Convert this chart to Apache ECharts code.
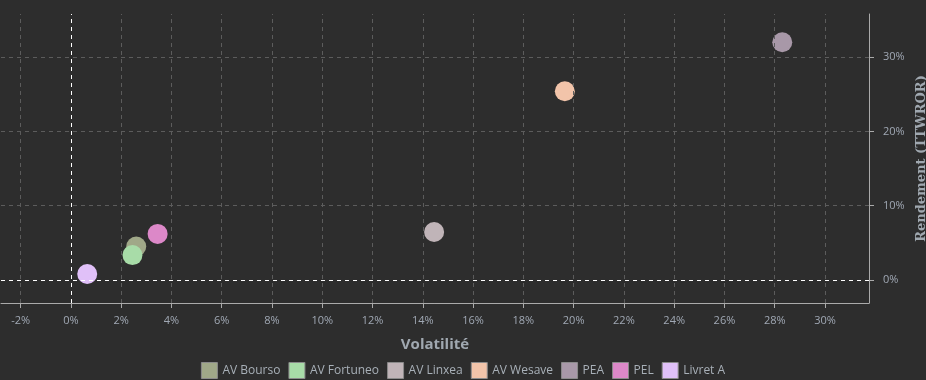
<!DOCTYPE html>
<html><head><meta charset="utf-8">
<script src="https://cdn.jsdelivr.net/npm/echarts@6/dist/echarts.min.js"></script>
<style>html,body{margin:0;padding:0;background:#2d2d2d;}#c{width:926px;height:380px;}</style>
</head><body><div id="c"></div>
<script>
const names = ['AV Bourso','AV Fortuneo','AV Linxea','AV Wesave','PEA','PEL','Livret A'];
const volatility = [2.6, 2.45, 14.45, 19.65, 28.3, 3.45, 0.65];
const returns = [4.5, 3.35, 6.45, 25.4, 32.0, 6.2, 0.8];
const colors = ['#a0a888','#a8dca8','#c0b4b8','#f2c4aa','#a898a8','#dc88c8','#e0c0f8'];
const xTicks = [-2,0,2,4,6,8,10,12,14,16,18,20,22,24,26,28,30];
const yTicks = [0,10,20,30];
const xRange = [-2.78, 31.75];
const yRange = [-3.1, 35.8];

const font = 'Open Sans, Noto Sans, sans-serif';
const series = [];
series.push({
  name:'grid', type:'line', data:[], silent:true, z:1,
  markLine:{symbol:'none', silent:true, label:{show:false}, animation:false,
    lineStyle:{color:'#5c5c5c', type:[4,4], width:1},
    data: xTicks.filter(v=>v!==0).map(v=>({xAxis:v}))
      .concat(yTicks.filter(v=>v!==0).map(v=>({yAxis:v})))}
});
series.push({
  name:'zero', type:'line', data:[], silent:true, z:2,
  markLine:{symbol:'none', silent:true, label:{show:false}, animation:false,
    lineStyle:{color:'#ffffff', type:[4,4], width:1},
    data:[{xAxis:0},{yAxis:0}]}
});
names.forEach((n,i)=>series.push({
  name:n, type:'scatter', symbolSize:20,
  itemStyle:{color:colors[i], opacity:1},
  data:[[volatility[i], returns[i]]],
  z: 3
}));
const chart = echarts.init(document.getElementById('c'), null, {renderer:'canvas'});
chart.setOption({
  backgroundColor:'#2d2d2d',
  animation:false,
  grid:{left:1, right:57, top:14, bottom:77, containLabel:false, outerBoundsMode:'none'},
  legend:{data:names, bottom:-4, left:'center', icon:'rect', itemWidth:16, itemHeight:16, itemGap:8,
    textStyle:{color:'#a8b0b8', fontSize:12, fontFamily:font},
    itemStyle:{borderColor:'#8a8a8a', borderWidth:1}},
  xAxis:{type:'value', min:xRange[0], max:xRange[1], splitNumber:17,
    name:'Volatilité', nameLocation:'middle', nameGap:34,
    nameTextStyle:{color:'#a0a8b0', fontSize:15, fontWeight:'bold', fontFamily:font},
    axisLine:{show:true, onZero:false, lineStyle:{color:'#aaaaaa'}},
    axisTick:{show:true, length:5, customValues:xTicks, lineStyle:{color:'#aaaaaa'}},
    axisLabel:{color:'#a0a8b4', fontSize:11, fontFamily:font, margin:12, customValues:xTicks,
      formatter:v=>Math.round(v)+'%'},
    splitLine:{show:false}},
  yAxis:{type:'value', position:'right', min:yRange[0], max:yRange[1], splitNumber:4,
    name:'Rendement (TTWROR)', nameLocation:'middle', nameGap:30, nameRotate:90,
    nameTextStyle:{color:'#a0a8b0', fontSize:13, fontWeight:'bold', fontFamily:'DejaVu Serif, serif'},
    axisLine:{show:true, onZero:false, lineStyle:{color:'#aaaaaa'}},
    axisTick:{show:true, length:5, customValues:yTicks, lineStyle:{color:'#aaaaaa'}},
    axisLabel:{color:'#a0a8b4', fontSize:11, fontFamily:font, margin:14, customValues:yTicks,
      formatter:v=>Math.round(v)+'%'},
    splitLine:{show:false}},
  series:series
});
</script></body></html>
